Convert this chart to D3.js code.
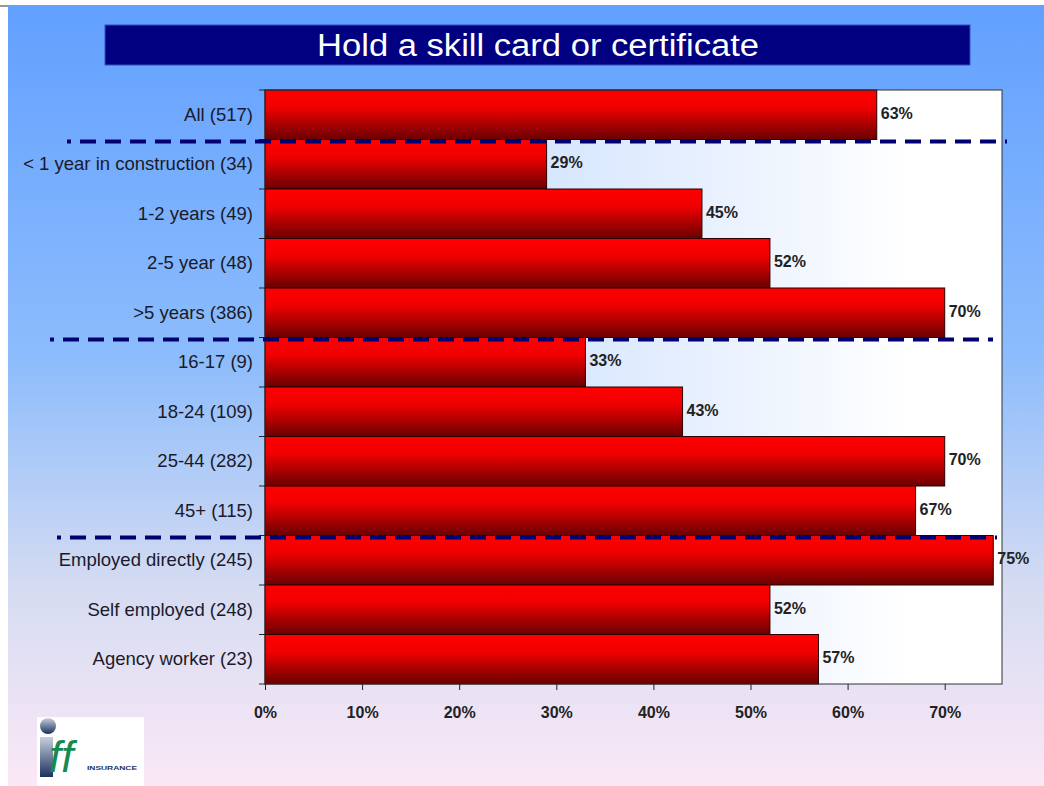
<!DOCTYPE html>
<html>
<head>
<meta charset="utf-8">
<script src="https://cdn.jsdelivr.net/npm/d3@7"></script>
<style>
  body { margin: 0; background: #fff; }
  svg text { font-family: "Liberation Sans", Arial, sans-serif; }
</style>
</head>
<body>
<div id="chart"></div>
<script>
// data
var categories = ["All (517)", "< 1 year in construction (34)", "1-2 years (49)", "2-5 year (48)",
  ">5 years (386)", "16-17 (9)", "18-24 (109)", "25-44 (282)", "45+ (115)",
  "Employed directly (245)", "Self employed (248)", "Agency worker (23)"]
var values = [63, 29, 45, 52, 70, 33, 43, 70, 67, 75, 52, 57]
var tickValues = [0, 10, 20, 30, 40, 50, 60, 70]
// group separators sit after these category indexes
var separators = [
  { after: 0, x0: 67, x1: 1007 },
  { after: 4, x0: 50, x1: 993 },
  { after: 8, x0: 57, x1: 997 }
]
var title = "Hold a skill card or certificate"

var W = 1044, H = 786
var plot = { left: 265, right: 1002, top: 90, bottom: 684 }

var svg = d3.select("#chart").append("svg")
  .attr("width", W).attr("height", H)

var defs = svg.append("defs")

var bgGrad = defs.append("linearGradient").attr("id", "bg")
  .attr("x1", 0).attr("y1", 0).attr("x2", 0).attr("y2", 1)
bgGrad.append("stop").attr("offset", "0%").attr("stop-color", "#62a0ff")
bgGrad.append("stop").attr("offset", "45%").attr("stop-color", "#8cbcfc")
bgGrad.append("stop").attr("offset", "75%").attr("stop-color", "#d6dcf2")
bgGrad.append("stop").attr("offset", "100%").attr("stop-color", "#fbe8f6")

var plotGrad = defs.append("linearGradient").attr("id", "plotbg")
  .attr("x1", 0).attr("y1", 0).attr("x2", 1).attr("y2", 0)
plotGrad.append("stop").attr("offset", "0%").attr("stop-color", "#b8d6ff")
plotGrad.append("stop").attr("offset", "55%").attr("stop-color", "#e4eefe")
plotGrad.append("stop").attr("offset", "88%").attr("stop-color", "#ffffff")

var barGrad = defs.append("linearGradient").attr("id", "bar")
  .attr("x1", 0).attr("y1", 0).attr("x2", 0).attr("y2", 1)
barGrad.append("stop").attr("offset", "0%").attr("stop-color", "#ff0000")
barGrad.append("stop").attr("offset", "35%").attr("stop-color", "#f00000")
barGrad.append("stop").attr("offset", "100%").attr("stop-color", "#6a0000")

// slide background
svg.append("rect").attr("x", 8).attr("y", 5).attr("width", W - 8).attr("height", H - 5)
  .attr("fill", "url(#bg)")
svg.append("line").attr("x1", 0).attr("x2", 8).attr("y1", 6).attr("y2", 6)
  .attr("stroke", "#333").attr("stroke-width", 1)

// title banner
svg.append("rect").attr("x", 105).attr("y", 25).attr("width", 865).attr("height", 40)
  .attr("fill", "#000080").attr("stroke", "#3050c0").attr("stroke-width", 1)
svg.append("text").attr("x", 538).attr("y", 56)
  .attr("text-anchor", "middle").attr("fill", "#fff")
  .attr("font-size", 31).attr("textLength", 442).attr("lengthAdjust", "spacingAndGlyphs")
  .text(title)

// scales
var x = d3.scaleLinear().domain([0, 75.9]).range([plot.left, plot.right])
var y = d3.scaleBand().domain(categories).range([plot.top, plot.bottom]).padding(0)

// plot area
svg.append("rect").attr("x", plot.left).attr("y", plot.top)
  .attr("width", plot.right - plot.left).attr("height", plot.bottom - plot.top)
  .attr("fill", "url(#plotbg)")

// bars
svg.append("g").selectAll("rect").data(values).enter().append("rect")
  .attr("x", x(0))
  .attr("y", (d, i) => y(categories[i]))
  .attr("width", d => x(d) - x(0))
  .attr("height", y.bandwidth())
  .attr("fill", "url(#bar)")
  .attr("stroke", "#2a0000").attr("stroke-width", 1)

// value labels
svg.append("g").selectAll("text").data(values).enter().append("text")
  .attr("x", d => x(d) + 4)
  .attr("y", (d, i) => y(categories[i]) + y.bandwidth() / 2 + 4)
  .attr("fill", "#222").attr("font-size", 16).attr("font-weight", "bold")
  .text(d => d + "%")

// plot border
svg.append("rect").attr("x", plot.left).attr("y", plot.top)
  .attr("width", plot.right - plot.left).attr("height", plot.bottom - plot.top)
  .attr("fill", "none").attr("stroke", "#333").attr("stroke-width", 1)

// category axis
var yAxis = svg.append("g").attr("transform", "translate(" + plot.left + ",0)")
yAxis.selectAll("line.tick").data(d3.range(categories.length + 1)).enter().append("line")
  .attr("x1", -6).attr("x2", 0)
  .attr("y1", i => plot.top + i * y.bandwidth()).attr("y2", i => plot.top + i * y.bandwidth())
  .attr("stroke", "#222")
yAxis.selectAll("text").data(categories).enter().append("text")
  .attr("x", -12).attr("y", d => y(d) + y.bandwidth() / 2 + 6)
  .attr("text-anchor", "end").attr("fill", "#1a1a2a").attr("font-size", 18.5)
  .text(d => d)

// value axis
var xAxis = d3.axisBottom(x).tickValues(tickValues).tickFormat(d => d + "%").tickSize(6)
var xg = svg.append("g").attr("transform", "translate(0," + plot.bottom + ")").call(xAxis)
xg.select(".domain").remove()
xg.selectAll(".tick line").attr("stroke", "#222")
xg.selectAll(".tick text").attr("dy", 0).attr("y", 34)
  .attr("fill", "#222").attr("font-size", 16).attr("font-weight", "bold")
  .attr("font-family", "Liberation Sans, Arial, sans-serif")

// group separators
svg.append("g").selectAll("line").data(separators).enter().append("line")
  .attr("x1", d => d.x0).attr("x2", d => d.x1)
  .attr("y1", d => y(categories[d.after]) + y.bandwidth() + 2)
  .attr("y2", d => y(categories[d.after]) + y.bandwidth() + 2)
  .attr("stroke", "#000070").attr("stroke-width", 4)
  .attr("stroke-dasharray", "16,9").attr("stroke-dashoffset", 12)

// logo
var logo = svg.append("g").attr("transform", "translate(37,717)")
logo.append("rect").attr("width", 107).attr("height", 69).attr("fill", "#fff")
var logoGrad = defs.append("linearGradient").attr("id", "logo")
  .attr("x1", 0).attr("y1", 0).attr("x2", 0).attr("y2", 1)
logoGrad.append("stop").attr("offset", "0%").attr("stop-color", "#c8d0dc")
logoGrad.append("stop").attr("offset", "100%").attr("stop-color", "#1a3060")
logo.append("circle").attr("cx", 11).attr("cy", 9).attr("r", 8).attr("fill", "url(#logo)")
logo.append("rect").attr("x", 3).attr("y", 20).attr("width", 13).attr("height", 40).attr("fill", "url(#logo)")
logo.append("text").attr("x", 12).attr("y", 55).attr("fill", "#148a50")
  .attr("font-size", 44).attr("font-style", "italic").attr("font-family", "Liberation Serif, serif")
  .text("ff")
logo.append("text").attr("x", 50).attr("y", 53).attr("fill", "#1a3060")
  .attr("font-size", 6).attr("font-weight", "bold")
  .attr("textLength", 50).attr("lengthAdjust", "spacingAndGlyphs").text("INSURANCE")
</script>
</body>
</html>
